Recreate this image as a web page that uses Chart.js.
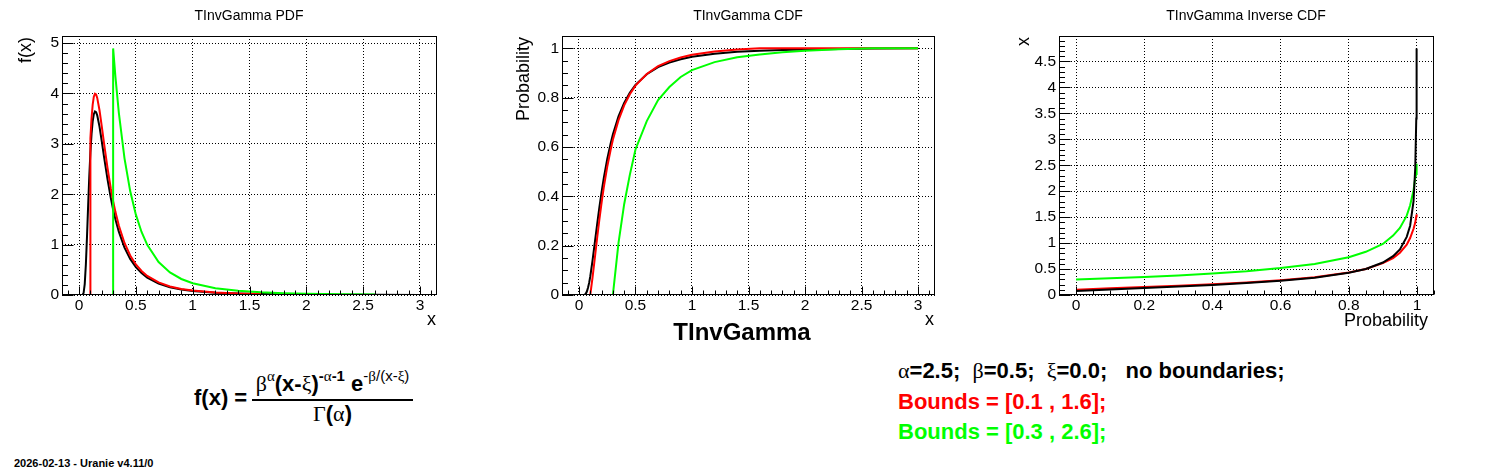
<!DOCTYPE html>
<html><head><meta charset="utf-8">
<script src="https://cdn.jsdelivr.net/npm/chart.js@4.4.1/dist/chart.umd.min.js"></script>
<style>
html,body{margin:0;padding:0;background:#fff}
body{width:1496px;height:472px;position:relative;overflow:hidden;font-family:"Liberation Sans",Arial,Helvetica,sans-serif;color:#000}
canvas{position:absolute;top:0}
.t{position:absolute;white-space:pre;line-height:1;font-weight:bold}
.g{font-family:"Liberation Serif","DejaVu Serif",serif;font-weight:normal}
.sup{font-size:15px;vertical-align:10px;line-height:0}
</style></head><body>
<canvas id="c1" width="498" height="345" style="left:0px;width:498px;height:345px"></canvas>
<canvas id="c2" width="498" height="345" style="left:499px;width:498px;height:345px"></canvas>
<canvas id="c3" width="498" height="345" style="left:997px;width:498px;height:345px"></canvas>
<div class="t" style="left:742px;top:320px;font-size:24px;transform:translateX(-50%)">TInvGamma</div>
<div class="t" style="left:194px;top:387px;font-size:22px">f(x) =</div>
<div style="position:absolute;left:252px;top:399px;width:161px;height:2px;background:#000"></div>
<div class="t" style="left:252px;width:161px;text-align:center;top:373px;font-size:22px"><span class="g">β</span><span class="sup g">α</span>(x-<span class="g">ξ</span>)<span class="sup">-<span class="g">α</span>-1</span> e<span class="sup" style="font-weight:normal">-<span class="g">β</span>/(x-<span class="g">ξ</span>)</span></div>
<div class="t" style="left:252px;width:161px;text-align:center;top:403px;font-size:22px"><span class="g">Γ</span>(<span class="g">α</span>)</div>
<div class="t" style="left:898px;top:360px;font-size:22px"><span class="g">α</span>=2.5;  <span class="g">β</span>=0.5;  <span class="g">ξ</span>=0.0;   no boundaries;</div>
<div class="t" style="left:898px;top:391px;font-size:22px;color:#ff0000">Bounds = [0.1 , 1.6];</div>
<div class="t" style="left:898px;top:421px;font-size:22px;color:#00ff00">Bounds = [0.3 , 2.6];</div>
<div class="t" style="left:14px;top:458px;font-size:11px">2026-02-13 - Uranie v4.11/0</div>
<script>
// ---------- PDF panel ----------
const pdfX = [0, 0.03, 0.04, 0.05, 0.06, 0.07, 0.08, 0.09, 0.1, 0.1, 0.11, 0.12, 0.13, 0.14, 0.15, 0.16, 0.18, 0.2, 0.22, 0.25, 0.28, 0.3, 0.3, 0.32, 0.35, 0.4, 0.45, 0.5, 0.55, 0.6, 0.7, 0.8, 0.9, 1.0, 1.2, 1.4, 1.6, 1.6, 1.8, 2.0, 2.3, 2.6, 2.6, 3.0];
const pdfBlack = [0, 0.002, 0.039, 0.216, 0.604, 1.158, 1.773, 2.351, 2.833, 2.833, 3.197, 3.444, 3.588, 3.642, 3.629, 3.566, 3.342, 3.051, 2.743, 2.304, 1.919, 1.698, 1.698, 1.504, 1.256, 0.941, 0.716, 0.553, 0.434, 0.345, 0.227, 0.155, 0.110, 0.081, 0.046, 0.029, 0.019, 0.019, 0.013, 0.009, 0.006, 0.004, 0.004, 0.002];
const pdfRed = [0, 0, 0, 0, 0, 0, 0, 0, 0, 3.108, 3.507, 3.778, 3.936, 3.995, 3.981, 3.912, 3.666, 3.347, 3.009, 2.527, 2.105, 1.863, 1.863, 1.650, 1.378, 1.032, 0.785, 0.607, 0.476, 0.379, 0.249, 0.170, 0.121, 0.089, 0.051, 0.031, 0.021, 0, 0, 0, 0, 0, 0, 0];
const pdfGreen = [0, 0, 0, 0, 0, 0, 0, 0, 0, 0, 0, 0, 0, 0, 0, 0, 0, 0, 0, 0, 0, 0, 4.894, 4.334, 3.620, 2.712, 2.063, 1.594, 1.251, 0.995, 0.654, 0.448, 0.318, 0.233, 0.133, 0.083, 0.054, 0.054, 0.037, 0.026, 0.017, 0.011, 0, 0];
const pdfXTicks = [0, 0.5, 1, 1.5, 2, 2.5, 3];
const pdfYTicks = [0, 1, 2, 3, 4, 5];

// ---------- CDF panel ----------
const cdfX = [0, 0.05, 0.06, 0.07, 0.08, 0.09, 0.1, 0.12, 0.14, 0.16, 0.18, 0.2, 0.22, 0.25, 0.28, 0.3, 0.35, 0.4, 0.45, 0.5, 0.6, 0.7, 0.8, 0.9, 1.0, 1.2, 1.4, 1.6, 1.8, 2.0, 2.3, 2.6, 3.0];
const cdfBlack = [0, 0.001, 0.005, 0.014, 0.029, 0.049, 0.075, 0.139, 0.211, 0.283, 0.353, 0.417, 0.475, 0.551, 0.613, 0.651, 0.724, 0.779, 0.820, 0.852, 0.895, 0.924, 0.942, 0.956, 0.966, 0.978, 0.986, 0.990, 0.993, 0.995, 0.997, 0.999, 1.0];
const cdfRed = [0, 0, 0, 0, 0, 0, 0, 0.070, 0.148, 0.228, 0.304, 0.374, 0.437, 0.520, 0.588, 0.629, 0.709, 0.769, 0.814, 0.849, 0.896, 0.928, 0.948, 0.963, 0.974, 0.987, 0.995, 1, 1, 1, 1, 1, 1];
const cdfGreen = [0, 0, 0, 0, 0, 0, 0, 0, 0, 0, 0, 0, 0, 0, 0, 0, 0.211, 0.368, 0.487, 0.590, 0.705, 0.790, 0.843, 0.884, 0.912, 0.944, 0.964, 0.975, 0.984, 0.990, 0.996, 1, 1];
const cdfXTicks = [0, 0.5, 1, 1.5, 2, 2.5, 3];
const cdfYTicks = [0, 0.2, 0.4, 0.6, 0.8, 1];

// ---------- Inverse CDF panel ----------
const invP = [0, 0.1, 0.2, 0.3, 0.4, 0.5, 0.6, 0.7, 0.8, 0.85, 0.9, 0.93, 0.95, 0.97, 0.98, 0.99, 0.995, 0.998, 0.999];
const invBlack = [0.075, 0.108, 0.137, 0.165, 0.195, 0.231, 0.275, 0.334, 0.429, 0.502, 0.626, 0.749, 0.878, 1.12, 1.334, 1.81, 2.45, 3.4, 4.75];
const invRed = [0.1, 0.128, 0.153, 0.179, 0.208, 0.243, 0.286, 0.342, 0.434, 0.502, 0.613, 0.711, 0.814, 0.968, 1.098, 1.276, 1.395, 1.515, 1.557];
const invGreen = [0.3, 0.324, 0.347, 0.378, 0.413, 0.457, 0.518, 0.599, 0.729, 0.832, 0.983, 1.145, 1.292, 1.529, 1.73, 2.02, 2.26, 2.33, 2.53];
const invXTicks = [0, 0.2, 0.4, 0.6, 0.8, 1];
const invYTicks = [0, 0.5, 1, 1.5, 2, 2.5, 3, 3.5, 4, 4.5];

const FONT = "'Liberation Sans', Arial, Helvetica, sans-serif";
Chart.defaults.font.family = FONT;
Chart.defaults.color = '#000';

const pts = (xs, ys) => xs.map((x, i) => ({x: x, y: ys[i]}));

function eachTick(min, max, minor, major, fn) {
  const k0 = Math.ceil(min / minor - 1e-6), k1 = Math.floor(max / minor + 1e-6);
  for (let k = k0; k <= k1; k++) {
    const v = k * minor, q = v / major;
    fn(v, Math.abs(q - Math.round(q)) < 1e-6);
  }
}

const rootStyle = {
  id: 'rootStyle',
  afterDraw(chart) {
    const o = chart.options.plugins.rootStyle;
    const ctx = chart.ctx, a = chart.chartArea;
    const xs = chart.scales.x, ys = chart.scales.y;
    ctx.save();
    ctx.strokeStyle = '#000';
    ctx.lineWidth = 1;
    const l = Math.round(a.left) + 0.5, t = Math.round(a.top) + 0.5;
    const r = Math.round(a.right) - 0.5, b = Math.round(a.bottom) - 0.5;
    ctx.strokeRect(l, t, r - l, b - t);
    ctx.beginPath();
    eachTick(xs.min, xs.max, o.xMinor, o.xMajor, (v, maj) => {
      const p = Math.round(xs.getPixelForValue(v)) + 0.5;
      ctx.moveTo(p, b); ctx.lineTo(p, b - (maj ? 8 : 4));
    });
    eachTick(ys.min, ys.max, o.yMinor, o.yMajor, (v, maj) => {
      const p = Math.round(ys.getPixelForValue(v)) + 0.5;
      ctx.moveTo(l, p); ctx.lineTo(l + (maj ? 11 : 5.5), p);
    });
    ctx.stroke();
    ctx.fillStyle = '#000';
    ctx.font = '14px ' + FONT;
    ctx.textAlign = 'center';
    ctx.textBaseline = 'alphabetic';
    ctx.fillText(o.title, chart.width / 2, 20);
    ctx.font = '18px ' + FONT;
    ctx.textAlign = 'right';
    ctx.fillText(o.xTitle, a.right - o.xTitleInset, o.xTitleBase);
    ctx.translate(o.yTitleX, 37);
    ctx.rotate(-Math.PI / 2);
    ctx.textAlign = 'right';
    ctx.textBaseline = 'middle';
    ctx.fillText(o.yTitle, 0, 0);
    ctx.restore();
  }
};

function makeChart(id, c) {
  const W = 498, H = 345, T = 36, B = 295;
  return new Chart(document.getElementById(id), {
    type: 'scatter',
    data: {
      datasets: c.series.map(s => ({
        data: pts(s.x, s.y), borderColor: s.color, backgroundColor: s.color,
        borderWidth: 2, showLine: true, pointRadius: 0, pointHoverRadius: 0,
        tension: 0, fill: false, order: s.order
      }))
    },
    options: {
      responsive: false, animation: false, events: [], devicePixelRatio: 1,
      layout: {padding: {left: 0, top: T, right: W - c.R, bottom: 0}},
      plugins: {
        legend: {display: false}, tooltip: {enabled: false}, title: {display: false},
        rootStyle: c.style
      },
      scales: {
        x: {
          type: 'linear', min: c.xMin, max: c.xMax,
          afterBuildTicks: s => { s.ticks = c.xTicks.map(v => ({value: v})); },
          afterFit: s => { s.height = H - B; },
          ticks: {autoSkip: false, maxRotation: 0, minRotation: 0, padding: 1, font: {size: 15.5}, color: '#000', callback: v => String(v)},
          grid: {color: '#000', lineWidth: 1, drawTicks: false, borderDash: [1, 2]},
          border: {display: false, dash: [1, 2]}
        },
        y: {
          type: 'linear', min: c.yMin, max: c.yMax,
          afterBuildTicks: s => { s.ticks = c.yTicks.map(v => ({value: v})); },
          afterFit: s => { s.width = c.L; },
          ticks: {autoSkip: false, padding: 3, font: {size: 15.5}, color: '#000', callback: v => String(v)},
          grid: {color: '#000', lineWidth: 1, drawTicks: false, borderDash: [1, 2]},
          border: {display: false, dash: [1, 2]}
        }
      }
    },
    plugins: [rootStyle]
  });
}

makeChart('c1', {
  L: 62, R: 437, xMin: -0.15, xMax: 3.15, yMin: 0, yMax: 5.14,
  xTicks: pdfXTicks, yTicks: pdfYTicks,
  series: [
    {x: pdfX, y: pdfBlack, color: '#000000', order: 2},
    {x: pdfX, y: pdfRed, color: '#ff0000', order: 1},
    {x: pdfX, y: pdfGreen, color: '#00ff00', order: 0}
  ],
  style: {title: 'TInvGamma PDF', xTitle: 'x', xTitleInset: 1, xTitleBase: 325, yTitle: 'f(x)', yTitleX: 26,
          xMinor: 0.1, xMajor: 0.5, yMinor: 0.2, yMajor: 1}
});

makeChart('c2', {
  L: 63, R: 436, xMin: -0.15, xMax: 3.15, yMin: 0, yMax: 1.05,
  xTicks: cdfXTicks, yTicks: cdfYTicks,
  series: [
    {x: cdfX, y: cdfBlack, color: '#000000', order: 2},
    {x: cdfX, y: cdfRed, color: '#ff0000', order: 1},
    {x: cdfX, y: cdfGreen, color: '#00ff00', order: 0}
  ],
  style: {title: 'TInvGamma CDF', xTitle: 'x', xTitleInset: 1, xTitleBase: 325, yTitle: 'Probability', yTitleX: 25,
          xMinor: 0.1, xMajor: 0.5, yMinor: 0.05, yMajor: 0.2}
});

makeChart('c3', {
  L: 62, R: 437, xMin: -0.05, xMax: 1.05, yMin: 0, yMax: 4.99,
  xTicks: invXTicks, yTicks: invYTicks,
  series: [
    {x: invP, y: invBlack, color: '#000000', order: 0},
    {x: invP, y: invRed, color: '#ff0000', order: 1},
    {x: invP, y: invGreen, color: '#00ff00', order: 2}
  ],
  style: {title: 'TInvGamma Inverse CDF', xTitle: 'Probability', xTitleInset: 6, xTitleBase: 326, yTitle: 'x', yTitleX: 27,
          xMinor: 0.05, xMajor: 0.2, yMinor: 0.1, yMajor: 0.5}
});
</script>
</body></html>
